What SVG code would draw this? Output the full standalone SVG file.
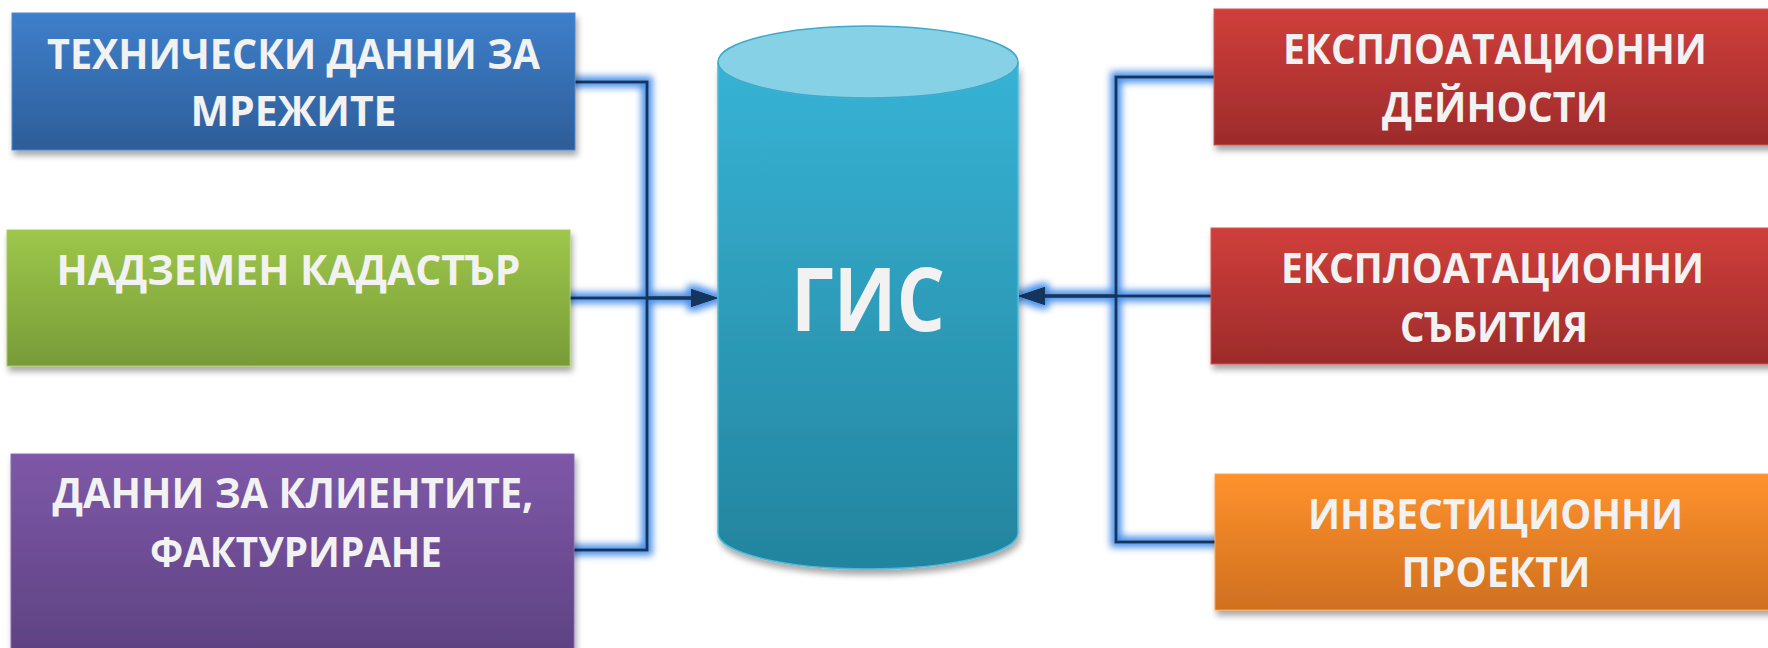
<svg xmlns="http://www.w3.org/2000/svg" width="1768" height="648" viewBox="0 0 1768 648">
<style>
.lbl{font-family:"Open Sans","Noto Sans","DejaVu Sans",sans-serif;font-weight:700;font-size:42px;fill:#F2F2F2;text-anchor:middle}
.big{font-size:87px}
.box{filter:url(#shadow)}
.ln{fill:none;stroke:#17365D;stroke-width:3}
.arr{marker-end:url(#ah)}
</style>
<defs>
<linearGradient id="gBlue" x1="0" y1="0" x2="0" y2="1"><stop offset="0" stop-color="#3E7FCB"/><stop offset="1" stop-color="#2D5D98"/></linearGradient>
<linearGradient id="gGreen" x1="0" y1="0" x2="0" y2="1"><stop offset="0" stop-color="#9DC74A"/><stop offset="1" stop-color="#789B38"/></linearGradient>
<linearGradient id="gPurple" x1="0" y1="0" x2="0" y2="1"><stop offset="0" stop-color="#7E58A8"/><stop offset="1" stop-color="#5C4180"/></linearGradient>
<linearGradient id="gRed" x1="0" y1="0" x2="0" y2="1"><stop offset="0" stop-color="#D03F3B"/><stop offset="1" stop-color="#9D2B2B"/></linearGradient>
<linearGradient id="gOrange" x1="0" y1="0" x2="0" y2="1"><stop offset="0" stop-color="#FF922D"/><stop offset="1" stop-color="#CF6F1F"/></linearGradient>
<linearGradient id="gCyl" x1="0" y1="0" x2="0" y2="1"><stop offset="0" stop-color="#37B3D5"/><stop offset="1" stop-color="#23849E"/></linearGradient>
<filter id="shadow" x="-5%" y="-10%" width="110%" height="130%">
<feDropShadow dx="2" dy="5" stdDeviation="3" flood-color="#000" flood-opacity="0.35"/>
</filter>
<filter id="glow" filterUnits="userSpaceOnUse" x="0" y="0" width="1768" height="648">
<feMorphology in="SourceAlpha" operator="dilate" radius="4" result="d"/>
<feGaussianBlur in="d" stdDeviation="3.5" result="b"/>
<feFlood flood-color="#4A8FE8" flood-opacity="1"/>
<feComposite in2="b" operator="in" result="g"/>
<feMerge><feMergeNode in="g"/><feMergeNode in="SourceGraphic"/></feMerge>
</filter>
<marker id="ah" markerUnits="userSpaceOnUse" markerWidth="28" markerHeight="20" refX="2" refY="9" orient="auto">
<path d="M0,0 L27,9 L0,18 Z" fill="#17365D"/>
</marker>
</defs>
<rect width="1768" height="648" fill="#FFFFFF"/>

<g id="connectors" filter="url(#glow)">
<path class="ln arr" d="M575,82 H647 V298 H693"/>
<path class="ln arr" d="M570,298 H693"/>
<path class="ln arr" d="M574,550 H647 V298 H693"/>
<path class="ln arr" d="M1214,77 H1116 V296 H1043"/>
<path class="ln arr" d="M1211,296 H1043"/>
<path class="ln arr" d="M1215,542 H1116 V296 H1043"/>
</g>

<g id="gis">
<g filter="url(#shadow)">
<path d="M718,62 V533 A150,36 0 0 0 1018,533 V62 A150,36 0 0 1 718,62 Z" fill="url(#gCyl)" stroke="#4CBAD8" stroke-width="1.5"/>
</g>
<ellipse cx="868" cy="62" rx="150" ry="36" fill="#87D1E6" stroke="#3EAACB" stroke-width="1.5"/>
<text class="lbl big" x="868" y="331" textLength="154" lengthAdjust="spacingAndGlyphs">ГИС</text>
</g>

<g id="tech">
<rect class="box" x="12" y="13" width="563" height="137" fill="url(#gBlue)" stroke="#4A88D0" stroke-width="1"/>
<text class="lbl" x="293.5" y="69" textLength="493" lengthAdjust="spacingAndGlyphs">ТЕХНИЧЕСКИ ДАННИ ЗА</text>
<text class="lbl" x="293.5" y="126" textLength="206" lengthAdjust="spacingAndGlyphs">МРЕЖИТЕ</text>
</g>

<g id="cadastre">
<rect class="box" x="7" y="230" width="563" height="136" fill="url(#gGreen)" stroke="#A6CC5C" stroke-width="1"/>
<text class="lbl" x="288.5" y="285" textLength="464" lengthAdjust="spacingAndGlyphs">НАДЗЕМЕН КАДАСТЪР</text>
</g>

<g id="clients">
<rect class="box" x="11" y="454" width="563" height="210" fill="url(#gPurple)" stroke="#8A67B2" stroke-width="1"/>
<text class="lbl" x="293" y="508" textLength="481" lengthAdjust="spacingAndGlyphs">ДАННИ ЗА КЛИЕНТИТЕ,</text>
<text class="lbl" x="296" y="567" textLength="292" lengthAdjust="spacingAndGlyphs">ФАКТУРИРАНЕ</text>
</g>

<g id="activities">
<rect class="box" x="1214" y="9" width="580" height="136" fill="url(#gRed)" stroke="#D65552" stroke-width="1"/>
<text class="lbl" x="1495" y="64" textLength="424" lengthAdjust="spacingAndGlyphs">ЕКСПЛОАТАЦИОННИ</text>
<text class="lbl" x="1495" y="122" textLength="226" lengthAdjust="spacingAndGlyphs">ДЕЙНОСТИ</text>
</g>

<g id="events">
<rect class="box" x="1211" y="228" width="580" height="136" fill="url(#gRed)" stroke="#D65552" stroke-width="1"/>
<text class="lbl" x="1492.5" y="283" textLength="423" lengthAdjust="spacingAndGlyphs">ЕКСПЛОАТАЦИОННИ</text>
<text class="lbl" x="1494" y="342" textLength="188" lengthAdjust="spacingAndGlyphs">СЪБИТИЯ</text>
</g>

<g id="projects">
<rect class="box" x="1215" y="474" width="580" height="136" fill="url(#gOrange)" stroke="#FFA04A" stroke-width="1"/>
<text class="lbl" x="1495.5" y="529" textLength="375" lengthAdjust="spacingAndGlyphs">ИНВЕСТИЦИОННИ</text>
<text class="lbl" x="1496" y="587" textLength="189" lengthAdjust="spacingAndGlyphs">ПРОЕКТИ</text>
</g>
</svg>
